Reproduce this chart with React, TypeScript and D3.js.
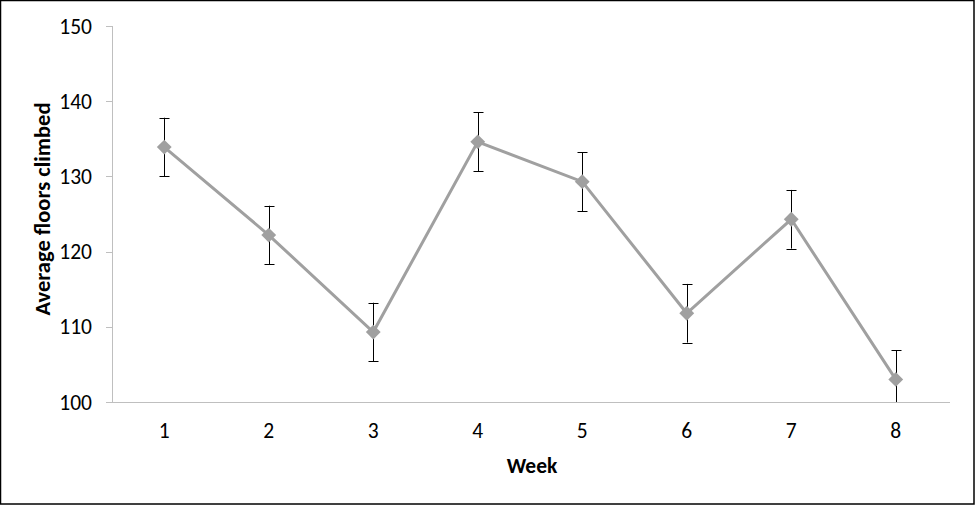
import React from "react";
import * as d3 from "d3";

const weeks = ["1", "2", "3", "4", "5", "6", "7", "8"];
const avgFloors = [133.9, 122.2, 109.3, 134.6, 129.3, 111.8, 124.3, 103.0];
const errors = [3.9, 3.9, 3.9, 3.9, 3.9, 3.9, 3.9, 3.9];
const yTicks = [100, 110, 120, 130, 140, 150];

export default function App() {
  const W = 975, H = 506;
  const left = 112, right = 948, top = 26, bottom = 402;
  const x = d3.scaleBand<string>().domain(weeks).range([left, right]);
  const y = d3.scaleLinear().domain([100, 150]).range([bottom, top]);
  const cx = (w: string) => (x(w) ?? 0) + x.bandwidth() / 2;
  const line = d3
    .line<number>()
    .x((_, i) => cx(weeks[i]))
    .y((d) => y(d));
  const font = "Carlito, 'Open Sans', 'Liberation Sans', sans-serif";
  const diamond = d3.symbol().type(d3.symbolDiamond2).size(140)();
  const fs = 21.5;
  return (
    <svg
      width={W}
      height={H}
      style={{ position: "absolute", left: 0, top: 0, background: "#fff" }}
      fontFamily={font}
    >
      <rect x={0.5} y={0.5} width={W - 1.5} height={H - 2.5} fill="#fff" stroke="#000" strokeWidth={1.5} />
      {/* y axis */}
      <line x1={left + 0.5} x2={left + 0.5} y1={top} y2={bottom} stroke="#BFBFBF" />
      {yTicks.map((t) => (
        <g key={t}>
          <line x1={left - 6} x2={left} y1={Math.round(y(t)) + 0.5} y2={Math.round(y(t)) + 0.5} stroke="#BFBFBF" />
          <text x={92} y={y(t)} dy="0.35em" textAnchor="end" fontSize={fs} fill="#000">
            {t}
          </text>
        </g>
      ))}
      {/* x axis */}
      <line x1={left} x2={right + 2} y1={bottom + 0.5} y2={bottom + 0.5} stroke="#BFBFBF" />
      {weeks.map((w) => (
        <text key={w} x={cx(w)} y={438} textAnchor="middle" fontSize={fs} fill="#000">
          {w}
        </text>
      ))}
      <text x={532} y={473} textAnchor="middle" fontSize={fs} fontWeight="bold" fill="#000">
        Week
      </text>
      <text
        transform={`translate(50,209) rotate(-90)`}
        textAnchor="middle"
        fontSize={22.5}
        fontWeight="bold"
        fill="#000"
      >
        Average floors climbed
      </text>
      {/* error bars */}
      {weeks.map((w, i) => {
        const xc = Math.round(cx(w)) + 0.5;
        const y1 = y(avgFloors[i] + errors[i]);
        const y0 = Math.min(y(avgFloors[i] - errors[i]), bottom);
        return (
          <g key={w} stroke="#000" strokeWidth={1}>
            <line x1={xc} x2={xc} y1={y1} y2={y0} />
            <line x1={xc - 5} x2={xc + 5} y1={Math.round(y1) + 0.5} y2={Math.round(y1) + 0.5} />
            {y(avgFloors[i] - errors[i]) <= bottom && (
              <line x1={xc - 5} x2={xc + 5} y1={Math.round(y0) + 0.5} y2={Math.round(y0) + 0.5} />
            )}
          </g>
        );
      })}
      <path d={line(avgFloors) ?? ""} fill="none" stroke="#A0A0A0" strokeWidth={3} />
      {avgFloors.map((v, i) => (
        <path key={i} d={diamond ?? ""} transform={`translate(${cx(weeks[i])},${y(v)})`} fill="#A0A0A0" />
      ))}
    </svg>
  );
}
